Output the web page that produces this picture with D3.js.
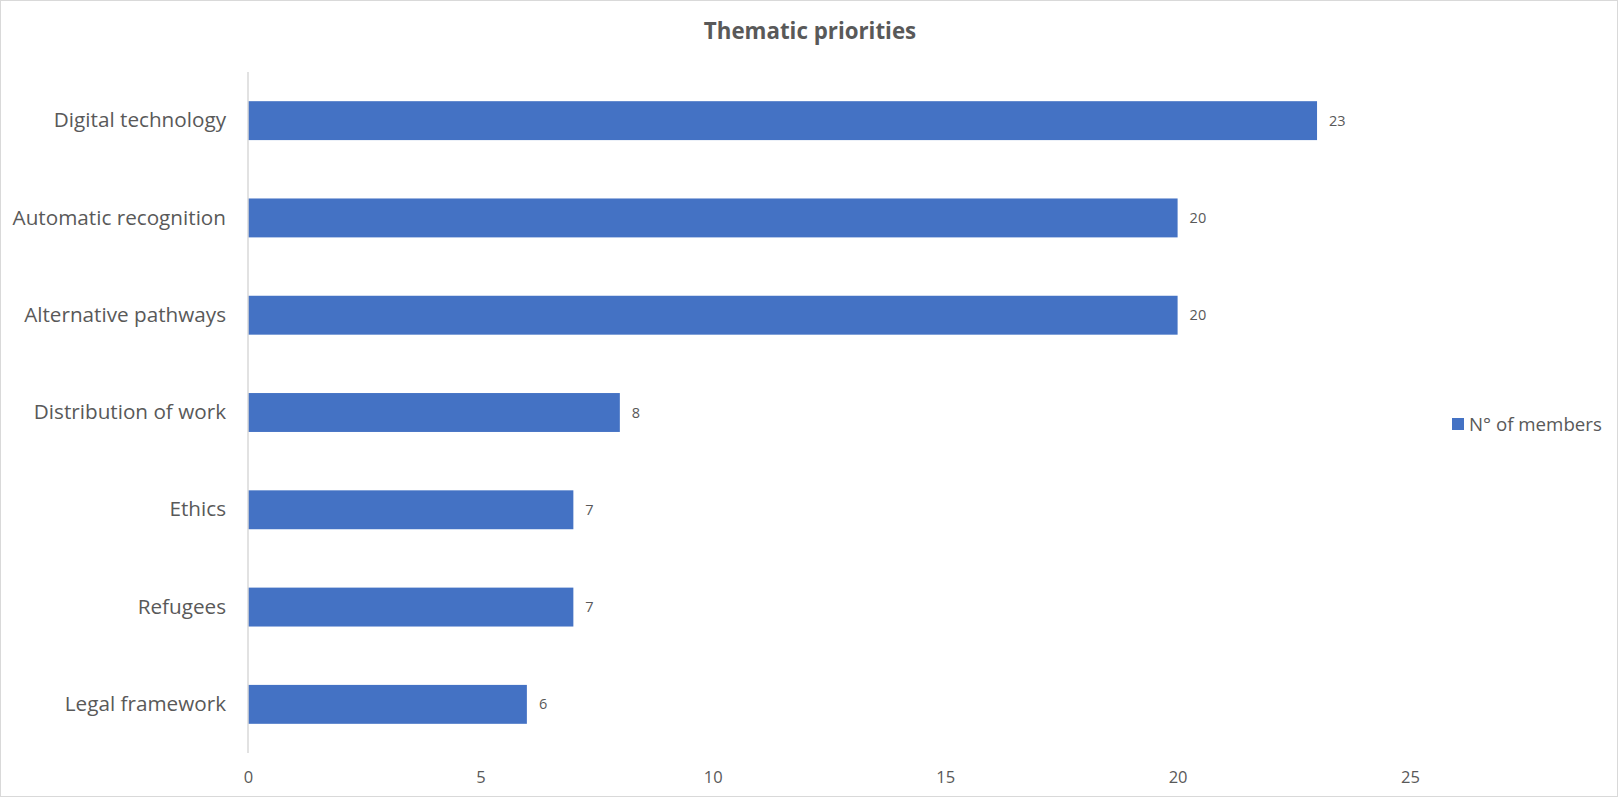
<!DOCTYPE html>
<html>
<head>
<meta charset="utf-8">
<script src="https://cdn.jsdelivr.net/npm/d3@7"></script>
<style>
  html, body { margin: 0; padding: 0; background: #fff; }
  svg { display: block; }
</style>
</head>
<body>
<svg id="chart" width="1618" height="797"></svg>
<script>
const categories = ["Digital technology", "Automatic recognition", "Alternative pathways", "Distribution of work", "Ethics", "Refugees", "Legal framework"];
const values = [23, 20, 20, 8, 7, 7, 6];
const tickValues = [0, 5, 10, 15, 20, 25];
const seriesName = "N° of members";
const title = "Thematic priorities";

const W = 1618, H = 797;
const margin = { left: 248, top: 72, plotRight: 1410, bottom: 753 };
const font = "'Open Sans', 'Noto Sans', sans-serif";
const textColor = "#595959";
const barColor = "#4472C4";

const svg = d3.select("#chart");

// border
svg.append("rect").attr("x", 0.5).attr("y", 0.5).attr("width", W - 1).attr("height", H - 1)
  .attr("fill", "#fff").attr("stroke", "#d9d9d9");

const x = d3.scaleLinear().domain([0, 25]).range([margin.left, margin.plotRight]);
const y = d3.scaleBand().domain(categories).range([margin.top, margin.bottom])
  .paddingInner(0.6).paddingOuter(0.3);

// title
svg.append("text").attr("x", 810).attr("y", 39).attr("text-anchor", "middle")
  .attr("font-family", font).attr("font-weight", "bold").attr("font-size", 22.3)
  .attr("fill", textColor).text(title);

// bars
svg.append("g").selectAll("rect").data(categories).join("rect")
  .attr("x", x(0)).attr("y", d => y(d))
  .attr("width", (d, i) => x(values[i]) - x(0))
  .attr("height", y.bandwidth())
  .attr("fill", barColor);

// value labels
svg.append("g").selectAll("text").data(categories).join("text")
  .attr("x", (d, i) => x(values[i]) + 12)
  .attr("y", d => y(d) + y.bandwidth() / 2)
  .attr("dy", "0.35em")
  .attr("font-family", font).attr("font-size", 14.5).attr("fill", textColor)
  .text((d, i) => values[i]);

// x axis (labels only)
const xAxis = d3.axisBottom(x).tickValues(tickValues).tickSize(0).tickPadding(0);
const gx = svg.append("g").attr("transform", `translate(0, ${margin.bottom + 24})`).call(xAxis);
gx.select(".domain").remove();
gx.selectAll("text").attr("font-family", font).attr("font-size", 16.5).attr("fill", textColor)
  .attr("dy", "0.35em").attr("y", 0);

// y axis
const yAxis = d3.axisLeft(y).tickSize(0).tickPadding(22);
const gy = svg.append("g").attr("transform", `translate(${margin.left}, 0)`).call(yAxis);
gy.select(".domain").attr("stroke", "#d9d9d9").attr("stroke-width", 1.5)
  .attr("d", `M0,${margin.top}V${margin.bottom}`);
gy.selectAll("text").attr("font-family", font).attr("font-size", 20.7).attr("fill", textColor);

// legend
const lg = svg.append("g").attr("transform", "translate(1452, 418)");
lg.append("rect").attr("width", 12).attr("height", 12).attr("fill", barColor);
lg.append("text").attr("x", 17).attr("y", 6).attr("dy", "0.35em")
  .attr("font-family", font).attr("font-size", 18.7).attr("fill", textColor).text(seriesName);
</script>
</body>
</html>
